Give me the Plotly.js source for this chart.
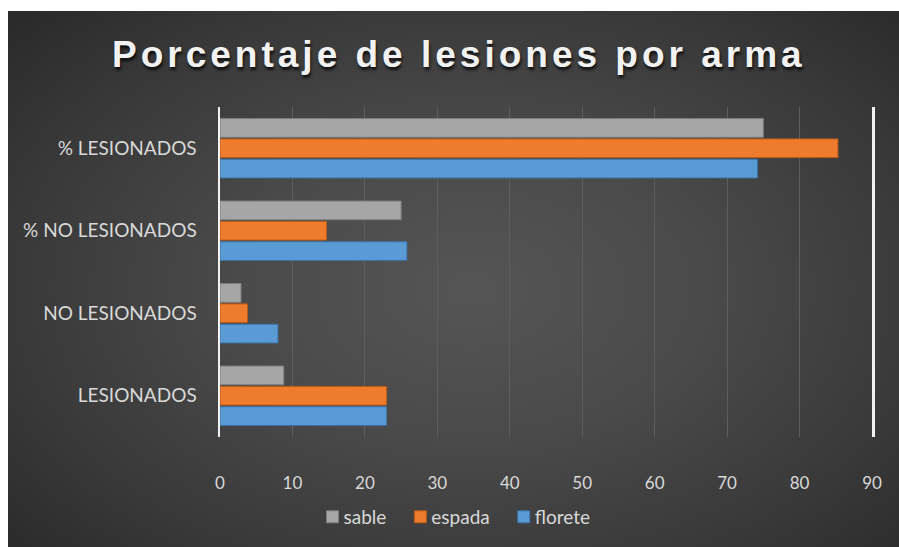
<!DOCTYPE html>
<html>
<head>
<meta charset="utf-8">
<script src="https://cdn.plot.ly/plotly-3.0.1.min.js"></script>
<style>
  html, body { margin: 0; padding: 0; background: #ffffff; width: 899px; height: 547px; overflow: hidden; }
  #chart {
    position: absolute; left: 8px; top: 11px; width: 891px; height: 536px;
    background: radial-gradient(ellipse 75% 80% at 52% 52%, #555555 0%, #4a4a4a 35%, #383838 70%, #262626 100%);
  }
  .gtitle { letter-spacing: 4px; }
  .legend .legendpoints { transform: translateX(9px); }
</style>
</head>
<body>
<div id="chart"></div>
<script>
const categories = ["LESIONADOS", "NO LESIONADOS", "% NO LESIONADOS", "% LESIONADOS"];
const florete = [23, 8, 25.8, 74.2];
const espada  = [23, 3.8, 14.7, 85.3];
const sable   = [8.8, 2.9, 25, 75];
const xTicks  = [0, 10, 20, 30, 40, 50, 60, 70, 80, 90];
const titleText = "Porcentaje de lesiones por arma";

const fam = "Lato, 'Open Sans', sans-serif";
const xFont = {family: fam, size: 17, color: "#d9d9d9"};
const yFont = {family: fam, size: 19, color: "#d9d9d9"};
const legFont = {family: fam, size: 19, color: "#d9d9d9"};

function barTrace(name, values, fill, edge) {
  return {
    type: "bar", orientation: "h", name: name,
    y: categories, x: values,
    marker: {color: fill, line: {color: edge, width: 1}},
    hoverinfo: "x+name"
  };
}

const data = [
  barTrace("florete", florete, "#5b9bd5", "#3b72a8"),
  barTrace("espada", espada, "#ef7c2c", "#b85a18"),
  barTrace("sable", sable, "#a6a6a6", "#7f7f7f")
];

const layout = {
  width: 891, height: 536,
  paper_bgcolor: "rgba(0,0,0,0)", plot_bgcolor: "rgba(0,0,0,0)",
  margin: {l: 212, r: 27, t: 96, b: 110},
  barmode: "group", bargap: 0.26, bargroupgap: 0.08,
  title: {
    text: "<b>" + titleText + "</b>",
    font: {family: "'Liberation Sans', Arial, sans-serif", size: 37, color: "#f2f2f2",
           shadow: "1px 3px 3px rgba(0,0,0,0.75)"},
    xref: "container", x: 0.506, xanchor: "center",
    yref: "container", y: 0.92, yanchor: "middle"
  },
  xaxis: {
    range: [0, 90], tickvals: xTicks, ticktext: xTicks.map(String),
    showgrid: true, gridcolor: "#5e5e5e", gridwidth: 1,
    zeroline: false, showline: false, ticks: "",
    tickfont: xFont, ticklabelstandoff: 34, fixedrange: true
  },
  xaxis2: {
    overlaying: "x", side: "top", range: [0, 90], tickvals: xTicks,
    showticklabels: false, showgrid: false, zeroline: false, showline: false,
    ticks: "inside", ticklen: 3, tickwidth: 1.5, tickcolor: "#e0e0e0"
  },
  yaxis: {
    type: "category", categoryorder: "array", categoryarray: categories,
    showline: true, linecolor: "#f2f2f2", linewidth: 2.5, mirror: true,
    showgrid: false, zeroline: false, ticks: "",
    tickfont: yFont, ticklabelstandoff: 17, fixedrange: true
  },
  legend: {
    orientation: "h", traceorder: "reversed",
    xref: "container", x: 0.4955, xanchor: "center",
    yref: "container", y: 0.056, yanchor: "middle",
    font: legFont, bgcolor: "rgba(0,0,0,0)", itemclick: false
  },
  showlegend: true
};

Plotly.newPlot("chart", data, layout, {displayModeBar: false, staticPlot: true});
</script>
</body>
</html>
